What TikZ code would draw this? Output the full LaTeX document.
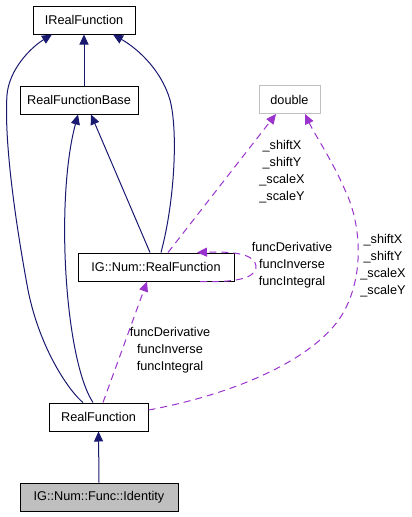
\documentclass[tikz,border=0pt]{standalone}
\usepackage{fontspec}
\setmainfont{Liberation Sans}
\usetikzlibrary{arrows.meta,calc}
\definecolor{navyedge}{HTML}{191970}
\definecolor{purpleedge}{HTML}{9A32CD}
\definecolor{boxgray}{HTML}{BFBFBF}
\begin{document}
\begin{tikzpicture}[x=1pt,y=-1pt,
  every node/.style={font=\fontsize{12.7}{17}\selectfont},
  classbox/.style={draw=black,line width=1pt,fill=white,inner sep=0pt,minimum height=28pt},
  inherit/.style={navyedge,line width=1pt,-{Triangle[length=10pt,width=9pt]}},
  usage/.style={purpleedge,line width=1pt,dash pattern=on 7pt off 5pt,-{Triangle[length=10pt,width=9pt]}},
  elabel/.style={align=center,inner sep=0pt}]
\useasboundingbox (0,0) rectangle (412,517);

% nodes
\node[classbox,minimum width=102pt] (irf) at (84,20) {IRealFunction};
\node[classbox,minimum width=118pt] (rfb) at (79,100) {RealFunctionBase};
\node[classbox,draw=boxgray,minimum width=61pt] (dbl) at (289.5,99.5) {double};
\node[classbox,minimum width=156pt] (igrf) at (156,267) {IG::Num::RealFunction};
\node[classbox,minimum width=99pt] (rf) at (98.5,417) {RealFunction};
\node[classbox,fill=boxgray,minimum width=158pt] (id) at (99,497) {IG::Num::Func::Identity};

% inheritance edges
\draw[inherit] (rfb.north -| irf.south) -- (irf.south);
\draw[inherit] (id.north) -- (rf.south);
\draw[inherit] ($(rf.north)+(-15.5,0)$) .. controls (70,392) and (40,350) .. (28,290)
  .. controls (15,220) and (4,140) .. (7,95)
  .. controls (9,70) and (30,48) .. ($(irf.south)+(-32,0)$);
\draw[inherit] ($(rf.north)+(-5.5,0)$) .. controls (65,360) and (55,200) .. ($(rfb.south)+(-1,0)$);
\draw[inherit] ($(igrf.north)+(-6,0)$) -- ($(rfb.south)+(12,0)$);
\draw[inherit] ($(igrf.north)+(5,0)$) .. controls (175,200) and (178,130) .. (170,100)
  .. controls (162,72) and (140,50) .. ($(irf.south)+(29,0)$);

% usage edges
\draw[usage] ($(igrf.north)+(12,0)$) -- ($(dbl.south)+(-13.5,0)$);
\node[elabel] (lab1) at (282,172) {\_shiftX\\\_shiftY\\\_scaleX\\\_scaleY};

\draw[usage] ($(rf.east)+(0,-7)$) .. controls (230,395) and (310,362) .. (340,318)
  .. controls (365,280) and (362,225) .. (345,190)
  .. controls (332,160) and (315,135) .. ($(dbl.south)+(15.5,0)$);
\node[elabel] (lab2) at (383,265.5) {\_shiftX\\\_shiftY\\\_scaleX\\\_scaleY};

\draw[usage] ($(rf.north)+(4.5,0)$) -- ($(igrf.south)+(-9,0)$);
\node[elabel] (lab3) at (170,350.5) {funcDerivative\\funcInverse\\funcIntegral};

\draw[usage] ($(igrf.south)+(44,0)$) .. controls (245,283) and (257,275) .. (256,266)
  .. controls (255,256) and (240,251) .. ($(igrf.north)+(41,0)$);
\node[elabel] (lab4) at (292,265) {funcDerivative\\funcInverse\\funcIntegral};
\end{tikzpicture}
\end{document}
